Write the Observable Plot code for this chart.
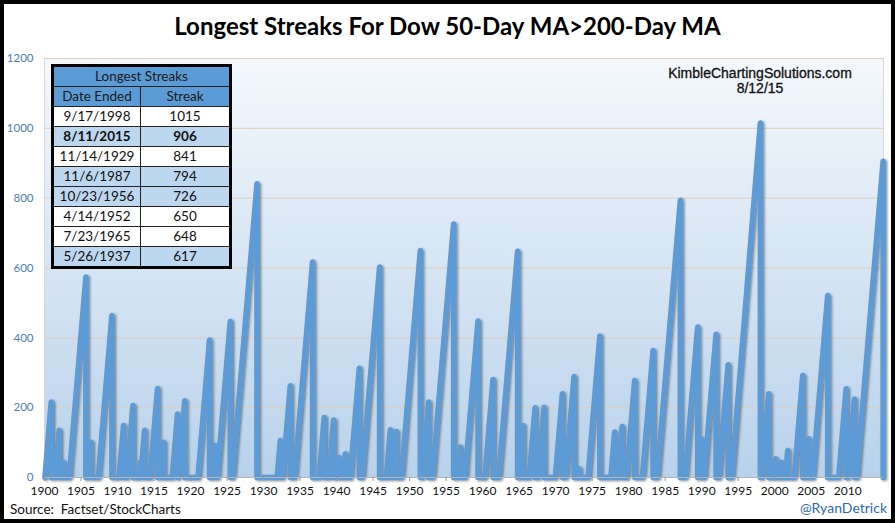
<!DOCTYPE html>
<html>
<head>
<meta charset="utf-8">
<script src="https://cdn.jsdelivr.net/npm/d3@7"></script>
<script src="https://cdn.jsdelivr.net/npm/@observablehq/plot@0.6"></script>
<style>
  body { margin: 0; background: #fff; }
  #wrap { position: relative; width: 895px; height: 523px; overflow: hidden; background: #fff; font-family: Lato, "Open Sans", sans-serif; }
  #chart { position: absolute; left: 0; top: 0; }
  #frame { position: absolute; left: 0; top: 0; width: 895px; height: 523px; border: 4px solid #000; box-sizing: border-box; pointer-events: none; }
  #title { position: absolute; top: 11px; left: 0; width: 895px; text-align: center; font-weight: bold; font-size: 24px; line-height: 30px; color: #000; }
  #source { position: absolute; left: 10px; top: 501px; font-size: 13.5px; line-height: 16px; color: #111; white-space: pre; }
  #handle { position: absolute; right: 8px; top: 500px; font-size: 14px; line-height: 16px; color: #2e6bb0; }
  #wm { position: absolute; left: 660px; width: 200px; top: 66px; text-align: center; font-family: "Liberation Sans", Arial, sans-serif; font-size: 14px; line-height: 15px; color: #111; -webkit-text-stroke: 0.3px #111; }
  #tbl { position: absolute; left: 51px; top: 64px; border-collapse: collapse; border: 3px solid #000; font-size: 13.5px; color: #111; background: #fff; }
  #tbl td { border: 1px solid #222; height: 19px; padding: 0; text-align: center; line-height: 19px; }
  #tbl .h { background: #5b9bd5; color: #1a1a1a; }
  #tbl .b { background: #bdd7ee; }
  #tbl .w { background: #fff; }
  #tbl .bold td { font-weight: bold; }
  g[aria-label="line"] { filter: url(#shadow); }
</style>
</head>
<body>
<svg width="0" height="0" style="position:absolute">
  <defs>
    <linearGradient id="bg" x1="0" y1="0" x2="0" y2="1">
      <stop offset="0" stop-color="#f4f8fc"/>
      <stop offset="1" stop-color="#b8d2ec"/>
    </linearGradient>
    <filter id="shadow" x="-20%" y="-20%" width="140%" height="140%">
      <feDropShadow dx="1.5" dy="1" stdDeviation="1" flood-color="#333" flood-opacity="0.55"/>
    </filter>
  </defs>
</svg>
<div id="wrap">
  <div id="chart"></div>
  <div id="title">Longest Streaks For Dow 50-Day MA&gt;200-Day MA</div>
  <div id="wm">KimbleChartingSolutions.com<br>8/12/15</div>
  <table id="tbl"></table>
  <div id="source">Source:  Factset/StockCharts</div>
  <div id="handle">@RyanDetrick</div>
  <div id="frame"></div>
</div>
<script>
// Streak series (decimal year where each streak began / ended, and its length in days)
const streakStart = [1900.06, 1901.47, 1902.42, 1903.37, 1905.96, 1907.37, 1910.22, 1911.29, 1912.93, 1913.16,
  1914.46, 1915.9, 1917.49, 1918.32, 1921.02, 1923.01, 1923.65, 1925.74, 1931.87, 1932.61,
  1934.24, 1937.61, 1938.93, 1940.04, 1940.92, 1941.86, 1943.48, 1946.81, 1947.65, 1948.87,
  1951.74, 1953.13, 1956.6, 1957.58, 1960.3, 1962.2, 1964.93, 1966.38, 1967.61, 1969.96,
  1971.36, 1973.11, 1974.43, 1977.56, 1978.52, 1979.71, 1981.88, 1983.9, 1987.73, 1989.52,
  1990.33, 1992.33, 1994.1, 1998.22, 1999.88, 2000.74, 2001.47, 2002.67, 2004.22, 2005.18,
  2008.76, 2010.02, 2011.23];
const streakEnd = [1900.92, 1902.01, 1902.6, 1905.67, 1906.36, 1909.23, 1910.82, 1912.11, 1913.11, 1913.7,
  1915.48, 1916.3, 1918.22, 1919.2, 1922.6, 1923.38, 1925.44, 1929.1, 1932.29, 1933.66,
  1936.71, 1938.3, 1939.59, 1940.27, 1941.19, 1943.11, 1945.89, 1947.36, 1948.18, 1951.47,
  1952.6, 1956.03, 1956.95, 1959.37, 1961.42, 1964.79, 1965.53, 1967.18, 1968.41, 1970.92,
  1972.52, 1973.21, 1976.05, 1978.08, 1979.1, 1980.82, 1983.34, 1987.08, 1989.45, 1989.96,
  1991.97, 1993.62, 1998.04, 1999.18, 2000.1, 2000.92, 2001.78, 2003.84, 2004.66, 2007.26,
  2009.78, 2010.92, 2014.85];
const streakDays = [216, 135, 44, 574, 101, 464, 149, 206, 44, 135,
  255, 101, 182, 220, 394, 92, 447, 841, 106, 263,
  617, 172, 165, 58, 68, 313, 603, 137, 132, 650,
  216, 726, 87, 448, 281, 648, 149, 200, 201, 240,
  289, 25, 405, 130, 146, 278, 364, 794, 431, 111,
  410, 323, 1015, 240, 54, 44, 77, 292, 111, 521,
  254, 225, 906];

// Table of longest streaks
const tableDates = ["9/17/1998", "8/11/2015", "11/14/1929", "11/6/1987", "10/23/1956", "4/14/1952", "7/23/1965", "5/26/1937"];
const tableStreaks = [1015, 906, 841, 794, 726, 650, 648, 617];
const tableShade = ["w", "b", "w", "b", "b", "w", "w", "b"];

const yTicks = [0, 200, 400, 600, 800, 1000, 1200];
const xTicks = d3.range(1900, 2011, 5);

// Build the line points
const pts = [];
streakDays.forEach((v, i) => {
  pts.push({year: streakStart[i], days: 0});
  pts.push({year: streakEnd[i], days: v});
  pts.push({year: streakEnd[i], days: 0});
});

// Table
const tbl = document.getElementById("tbl");
let html = `<tr class="h"><td colspan="2">Longest Streaks</td></tr>`;
html += `<tr class="h"><td style="width:86px">Date Ended</td><td style="width:88px">Streak</td></tr>`;
tableDates.forEach((d, i) => {
  html += `<tr class="${tableShade[i]}${i === 1 ? " bold" : ""}"><td>${d}</td><td>${tableStreaks[i]}</td></tr>`;
});
tbl.innerHTML = html;

const plot = Plot.plot({
  width: 895,
  height: 523,
  marginLeft: 44,
  marginRight: 12,
  marginTop: 58,
  marginBottom: 46,
  style: {fontFamily: "Lato, 'Open Sans', sans-serif", fontSize: "12px", background: "transparent", overflow: "visible"},
  x: {domain: [1900, 2014.9]},
  y: {domain: [0, 1200]},
  marks: [
    Plot.frame({fill: "url(#bg)", stroke: "#d8d8d8"}),
    Plot.gridY(yTicks.slice(1), {stroke: "#dccfbf", strokeOpacity: 1}),
    Plot.line(pts, {x: "year", y: "days", stroke: "#5b9bd5", strokeWidth: 5.5, strokeLinejoin: "round", strokeLinecap: "round"}),
    Plot.ruleY([0], {stroke: "#b5b5b5"}),
    Plot.axisY({ticks: yTicks, tickFormat: d => String(d), tickSize: 0, tickPadding: 11, fill: "#4a7ebb", fontSize: 11.5, label: null}),
    Plot.axisX({ticks: xTicks, tickFormat: d => String(d), tickSize: 4, tickPadding: 5, stroke: "#999", fill: "#111", fontSize: 12, label: null})
  ]
});
document.getElementById("chart").appendChild(plot);
</script>
</body>
</html>
